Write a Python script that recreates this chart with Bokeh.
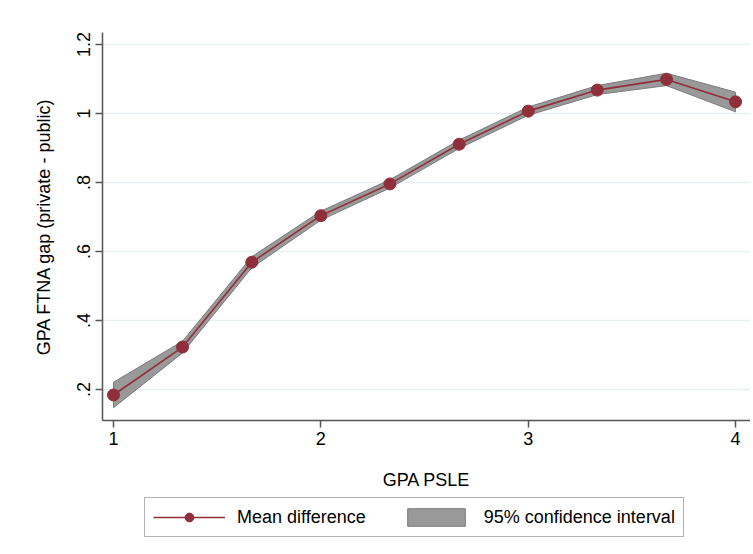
from bokeh.plotting import figure
from bokeh.layouts import column
from bokeh.models import Legend, LegendItem, FixedTicker, Range1d
from bokeh.embed import file_html
from bokeh.resources import INLINE

# Data
gpa_psle = [1.0, 1.333, 1.667, 2.0, 2.333, 2.667, 3.0, 3.333, 3.667, 4.0]
mean_diff = [0.184, 0.323, 0.569, 0.704, 0.796, 0.911, 1.007, 1.068, 1.099, 1.034]
ci_lower = [0.147, 0.306, 0.553, 0.691, 0.784, 0.899, 0.995, 1.055, 1.081, 1.005]
ci_upper = [0.221, 0.340, 0.585, 0.717, 0.808, 0.923, 1.019, 1.081, 1.117, 1.062]
x_ticks = [1, 2, 3, 4]
y_ticks = [0.2, 0.4, 0.6, 0.8, 1.0, 1.2]
y_tick_labels = [".2", ".4", ".6", ".8", "1", "1.2"]
series_labels = ["Mean difference", "95% confidence interval"]

FONT = "Liberation Sans"
LINE_COL = "#8f2f3b"
BAND_FILL = "#999999"
BAND_LINE = "#7a7a7a"

p = figure(width=750, height=497, output_backend="svg", toolbar_location=None,
           x_range=Range1d(0.947, 4.072), y_range=Range1d(0.110, 1.235),
           min_border_left=102, min_border_top=32, min_border_right=0, min_border_bottom=77)
p.outline_line_color = None
p.background_fill_color = "white"
p.border_fill_color = "white"

# CI band
band_x = gpa_psle + gpa_psle[::-1]
band_y = ci_upper + ci_lower[::-1]
p.patch(band_x, band_y, fill_color=BAND_FILL, line_color=BAND_LINE, line_width=1)

p.line(gpa_psle, mean_diff, line_color=LINE_COL, line_width=1.6)
p.scatter(gpa_psle, mean_diff, marker="circle", size=12, fill_color=LINE_COL, line_color=LINE_COL)

# axes
for ax in (p.xaxis[0], p.yaxis[0]):
    ax.axis_line_color = "#555555"
    ax.axis_line_width = 1.5
    ax.major_tick_line_color = "#555555"
    ax.major_tick_line_width = 1.5
    ax.major_tick_in = 0
    ax.major_tick_out = 7
    ax.minor_tick_line_color = None
    ax.major_label_text_font = FONT
    ax.major_label_text_font_size = "18px"
    ax.major_label_text_color = "#000000"
    ax.axis_label_text_font = FONT
    ax.axis_label_text_font_size = "18px"
    ax.axis_label_text_font_style = "normal"
    ax.axis_label_text_color = "#000000"

p.xaxis.ticker = FixedTicker(ticks=x_ticks)
p.xaxis.axis_label = "GPA PSLE"
p.xaxis.major_label_standoff = 4
p.xaxis.axis_label_standoff = 22

p.yaxis.ticker = FixedTicker(ticks=y_ticks)
p.yaxis.major_label_overrides = {t: l for t, l in zip(y_ticks, y_tick_labels)}
p.yaxis.major_label_orientation = "vertical"
p.yaxis.axis_label = "GPA FTNA gap (private - public)"
p.yaxis.major_label_standoff = 5
p.yaxis.axis_label_standoff = 21

p.xgrid.grid_line_color = None
p.ygrid.grid_line_color = "#e8eff1"
p.ygrid.grid_line_width = 1.5

# legend strip (its renderers sit outside its visible range; only the legend shows)
lg = figure(width=750, height=53, output_backend="svg", toolbar_location=None,
            x_range=Range1d(10, 11), y_range=Range1d(10, 11),
            x_axis_location=None, y_axis_location=None,
            min_border_left=0, min_border_right=0, min_border_top=0, min_border_bottom=0)
lg.outline_line_color = None
lg.xgrid.grid_line_color = None
lg.ygrid.grid_line_color = None
lg.border_fill_color = "white"
lr = lg.line(gpa_psle, mean_diff, line_color=LINE_COL, line_width=1.6)
lp = lg.scatter(gpa_psle, mean_diff, marker="circle", size=12, fill_color=LINE_COL, line_color=LINE_COL)
lb = lg.patch(band_x, band_y, fill_color=BAND_FILL, line_color=BAND_LINE, line_width=1)

legend = Legend(items=[
    LegendItem(label=series_labels[0], renderers=[lr, lp]),
    LegendItem(label=series_labels[1], renderers=[lb]),
], orientation="horizontal", location=(42, 13))
legend.label_text_font = FONT
legend.label_text_font_size = "18px"
legend.label_text_color = "#000000"
legend.glyph_width = 72
legend.glyph_height = 22
legend.label_standoff = 12
legend.spacing = 34
legend.padding = 8
legend.margin = 0
legend.border_line_color = "#666666"
legend.border_line_width = 1
legend.background_fill_color = "white"
lg.add_layout(legend, "center")

layout = column(p, lg, spacing=0)
open("out.html", "w").write(file_html(layout, INLINE))
